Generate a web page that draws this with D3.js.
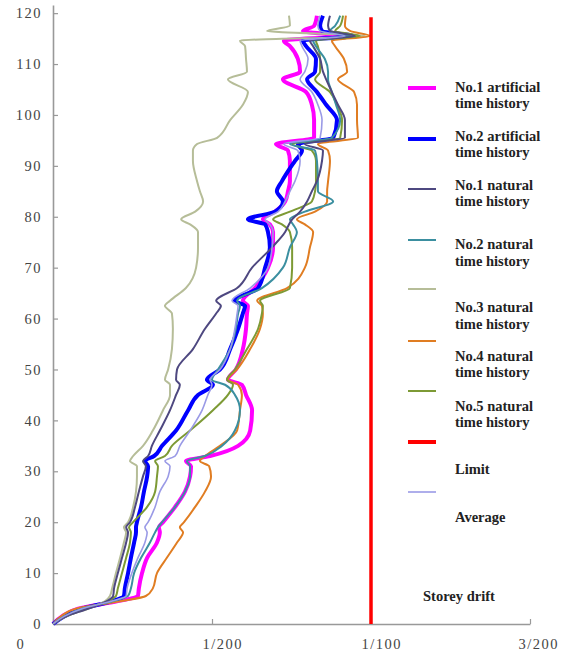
<!DOCTYPE html>
<html><head><meta charset="utf-8">
<script src="https://cdn.jsdelivr.net/npm/d3@7"></script>
<style>body{margin:0;background:#fff}svg{display:block}</style>
</head><body>
<svg id="c" width="570" height="656"></svg>
<script>
// Storey levels (shared by every series)
const storeys = [0,1.5,3,4.5,5.5,7,10,13,16,18,19,20,23,26,29,31,32,33,35,38,42,45,47,48,50,54,58,61,62.5,63.5,66,70,74,77,78.5,79.5,81,83,85,87,91,93,94.3,95.5,99,102,104.5,107,108.5,111,113.5,114.6,115.5,116.5,117.5,119.5];
// Storey drift in ‰ (1/200 = 5‰)
const no1Artificial = [0,0.28,0.79,2.04,2.67,2.70,2.80,2.96,3.27,3.36,3.33,3.46,3.84,4.15,4.31,4.34,4.18,4.94,5.82,6.20,6.26,6.07,5.94,5.50,5.75,5.97,6.07,6.10,6.13,5.97,6.35,6.76,6.92,6.92,6.82,6.60,6.98,7.30,7.39,7.45,7.45,7.39,7.01,8.21,8.21,8.14,7.96,7.23,7.77,7.70,7.45,7.26,9.03,7.86,8.21,8.30];
const no2Artificial = [0,0.35,0.91,1.86,2.23,2.26,2.36,2.45,2.55,2.61,2.61,2.64,2.77,2.86,2.96,2.99,2.89,3.18,3.43,3.87,4.25,4.56,5.03,4.84,5.25,5.57,5.82,5.97,6.04,5.72,6.45,6.67,6.82,6.76,6.67,6.13,6.98,7.23,7.04,7.20,7.61,7.83,7.70,8.81,8.93,8.59,8.30,7.99,8.24,8.27,7.96,7.86,9.43,8.46,8.40,8.49];
const no1Natural = [0,0.41,1.10,1.70,1.89,1.92,2.04,2.17,2.30,2.36,2.30,2.42,2.58,2.70,2.83,2.92,2.83,2.99,3.11,3.36,3.68,3.87,3.99,3.87,3.90,4.40,4.78,5.13,5.28,5.13,5.79,6.26,6.89,7.30,7.42,7.52,7.77,7.99,8.14,8.30,8.46,8.49,7.92,9.18,9.18,8.96,8.77,8.59,8.49,8.40,8.18,8.08,9.50,8.71,8.65,8.71];
const no2Natural = [0,0.35,0.91,1.89,2.36,2.45,2.55,2.77,3.05,3.21,3.30,3.43,3.84,4.15,4.31,4.31,4.21,4.78,5.31,5.72,5.88,5.72,5.41,5.00,5.19,5.57,5.75,5.82,5.88,5.79,6.57,7.23,7.45,7.67,7.55,7.45,7.92,8.81,8.33,8.33,8.30,8.24,7.45,8.77,9.03,8.90,8.77,8.65,8.65,8.55,8.27,8.18,9.34,8.71,8.87,9.03];
const no3Natural = [0,0.41,1.10,1.64,1.79,1.86,1.98,2.11,2.23,2.30,2.23,2.36,2.52,2.61,2.64,2.64,2.42,2.52,2.83,3.14,3.46,3.68,3.68,3.52,3.62,3.74,3.77,3.74,3.52,3.68,4.18,4.50,4.56,4.56,4.31,4.03,4.47,4.72,4.62,4.53,4.40,4.40,4.53,5.16,5.57,5.97,6.13,5.50,6.10,6.07,6.04,5.88,9.81,6.73,7.45,7.42];
const no4Natural = [0,0.25,0.72,2.17,2.92,3.14,3.27,3.58,3.90,4.09,3.99,4.12,4.47,4.78,4.97,4.91,4.62,4.78,5.25,5.79,5.88,5.94,5.82,5.50,5.79,6.20,6.51,6.60,6.57,6.42,7.36,7.92,8.08,8.18,7.92,7.67,8.24,8.62,8.62,8.65,8.71,8.65,8.33,9.59,9.56,9.56,9.47,8.96,9.25,9.15,8.87,8.77,9.97,9.34,9.18,9.21];
const no5Natural = [0,0.41,1.04,1.73,1.98,2.04,2.17,2.30,2.42,2.45,2.39,2.52,2.96,3.21,3.27,3.30,3.21,3.52,3.74,4.31,5.03,5.50,5.66,5.47,5.72,6.10,6.45,6.57,6.60,6.51,7.45,7.52,7.52,7.45,7.20,6.92,7.45,8.14,8.24,8.27,8.27,8.14,7.52,9.03,9.09,8.93,8.71,8.24,8.40,8.40,8.33,8.27,9.65,8.87,9.03,9.12];
const average = [0,0.35,0.91,1.86,2.30,2.33,2.48,2.67,2.89,2.96,2.89,2.99,3.21,3.36,3.62,3.68,3.52,3.84,3.99,4.31,4.69,4.87,5.00,4.94,5.25,5.57,5.72,5.79,5.82,5.63,6.20,6.76,6.89,6.92,6.82,6.67,7.08,7.30,7.45,7.61,7.77,7.70,7.26,8.40,8.46,8.33,8.14,7.77,7.92,8.02,7.83,7.77,9.18,8.40,8.33,8.40];
const limitDrift = 10;
const limitStoreys = [0, 119.2];

const xTicks = [0, 5, 10, 15];
const xTickLabels = ["0", "1/200", "1/100", "3/200"];
const yTicks = [0,10,20,30,40,50,60,70,80,90,100,110,120];

const svg = d3.select("#c");
const x = d3.scaleLinear().domain([0, 15]).range([53, 530]);
const y = d3.scaleLinear().domain([0, 121.6]).range([624, 5]);

// axes
const gx = svg.append("g").attr("transform", "translate(0,624)")
  .call(d3.axisBottom(x).tickValues(xTicks).tickSize(-5).tickSizeOuter(0).tickPadding(15)
    .tickFormat((d, i) => xTickLabels[i]));
const gy = svg.append("g").attr("transform", "translate(53,0)")
  .call(d3.axisLeft(y).tickValues(yTicks).tickSize(-5).tickSizeOuter(0).tickPadding(11));
[gx, gy].forEach(g => {
  g.attr("font-family", "'Liberation Serif', 'DejaVu Serif', serif");
  g.select(".domain").attr("stroke", "#999").attr("stroke-width", 1.6);
  g.selectAll(".tick line").attr("stroke", "#999").attr("stroke-width", 1.2);
  g.selectAll("text").attr("font-family", "'Liberation Serif', 'DejaVu Serif', serif")
    .attr("font-size", 14.5).attr("letter-spacing", 1.5).attr("fill", "#444");
});
gx.selectAll(".tick text").attr("text-anchor", "start").attr("x", (d) => d === 0 ? -37 : (d === 15 ? -12 : -10));

const series = [
  {v: no1Artificial, c: "#ff00ff", w: 4},
  {v: no2Artificial, c: "#0000ff", w: 4},
  {v: no3Natural, c: "#b6bd98", w: 2},
  {v: no4Natural, c: "#e07d22", w: 2},
  {v: no5Natural, c: "#7d9a35", w: 2},
  {v: no2Natural, c: "#3b8fa0", w: 2},
  {v: no1Natural, c: "#4e4880", w: 2},
  {v: average, c: "#9a9ae6", w: 1.6}
];
const line = d3.line().x(d => x(d[1])).y(d => y(d[0])).curve(d3.curveMonotoneY);
series.forEach(s => {
  svg.append("path").datum(d3.zip(storeys, s.v))
    .attr("d", line).attr("fill", "none").attr("stroke", s.c)
    .attr("stroke-width", s.w).attr("stroke-linejoin", "round");
});
// limit
svg.append("path").datum(limitStoreys.map(s => [s, limitDrift]))
  .attr("d", d3.line().x(d => x(d[1])).y(d => y(d[0])))
  .attr("stroke", "#ff0000").attr("stroke-width", 3.5).attr("fill", "none");

// legend
const legend = [
  {c: "#ff00ff", w: 4, ly: 88, t: ["No.1 artificial", "time history"], ty: [92, 108]},
  {c: "#0000ff", w: 4, ly: 139, t: ["No.2 artificial", "time history"], ty: [141, 157]},
  {c: "#4e4880", w: 2, ly: 189, t: ["No.1 natural", "time history"], ty: [190, 206]},
  {c: "#3b8fa0", w: 2, ly: 240, t: ["No.2 natural", "time history"], ty: [249, 266]},
  {c: "#b6bd98", w: 2, ly: 289, t: ["No.3 natural", "time history"], ty: [312, 329]},
  {c: "#e07d22", w: 2, ly: 341, t: ["No.4 natural", "time history"], ty: [361, 377]},
  {c: "#7d9a35", w: 2, ly: 391, t: ["No.5 natural", "time history"], ty: [411, 427]},
  {c: "#ff0000", w: 4, ly: 442, t: ["Limit"], ty: [474]},
  {c: "#9a9ae6", w: 1.6, ly: 492, t: ["Average"], ty: [522]}
];
const lg = svg.append("g");
legend.forEach(e => {
  lg.append("line").attr("x1", 408).attr("x2", 436).attr("y1", e.ly).attr("y2", e.ly)
    .attr("stroke", e.c).attr("stroke-width", e.w);
  e.t.forEach((t, i) => lg.append("text").attr("x", 455).attr("y", e.ty[i]).text(t));
});
lg.append("text").attr("x", 423).attr("y", 601).text("Storey drift");
lg.selectAll("text").attr("font-family", "Liberation Serif").attr("font-weight", "bold")
  .attr("font-size", 14.5).attr("fill", "#222");
</script>
</body></html>
